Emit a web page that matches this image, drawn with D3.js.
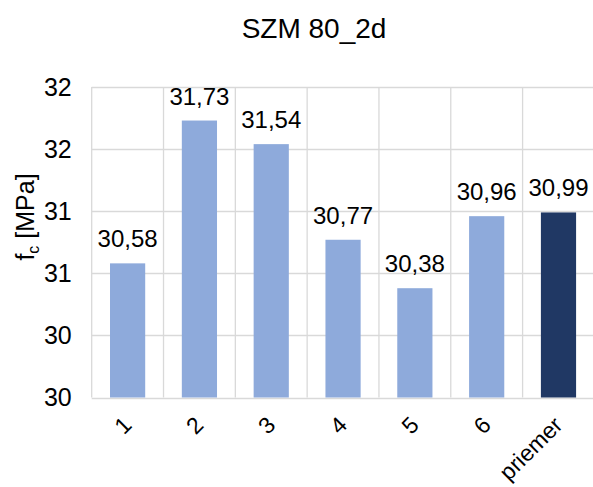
<!DOCTYPE html>
<html>
<head>
<meta charset="utf-8">
<script src="https://cdn.jsdelivr.net/npm/d3@7"></script>
<style>
  html, body { margin: 0; padding: 0; background: #fff; }
  svg { display: block; font-family: "Liberation Sans", Arial, sans-serif; }
</style>
</head>
<body>
<svg id="chart" width="593" height="487"></svg>
<script>
// Compressive strength of specimens, SZM 80 after 2 days
const categories = ["1", "2", "3", "4", "5", "6", "priemer"];
const values = [30.58, 31.73, 31.54, 30.77, 30.38, 30.96, 30.99];
const valueLabels = ["30,58", "31,73", "31,54", "30,77", "30,38", "30,96", "30,99"];
const tickValues = [29.5, 30, 30.5, 31, 31.5, 32];
const tickLabels = ["30", "30", "31", "31", "32", "32"];
const titleText = "SZM 80_2d";

const svg = d3.select("#chart");
const W = 593, H = 487;
const margin = { top: 87, right: 0, bottom: 89.5, left: 91.7 };
const x0 = margin.left, x1 = W + 1.4;
const y0 = H - margin.bottom, y1 = margin.top;

const x = d3.scaleBand().domain(categories).range([x0, x1]).paddingInner(0).paddingOuter(0);
const y = d3.scaleLinear().domain([29.5, 32]).range([y0, y1]);
const barW = x.bandwidth() * 0.49;

svg.append("rect").attr("width", W).attr("height", H).attr("fill", "#fff");

const grid = "#d9d9d9";
// horizontal gridlines
svg.append("g").selectAll("line").data(tickValues).join("line")
  .attr("x1", x0).attr("x2", x1)
  .attr("y1", d => Math.round(y(d)) + 0.5).attr("y2", d => Math.round(y(d)) + 0.5)
  .attr("stroke", grid).attr("stroke-width", 1.3);
// vertical gridlines at category boundaries
const bounds = categories.map(c => x(c)).concat([x1]);
svg.append("g").selectAll("line").data(bounds).join("line")
  .attr("x1", d => d).attr("x2", d => d)
  .attr("y1", y1).attr("y2", y0)
  .attr("stroke", grid).attr("stroke-width", 1.3);

// bars
svg.append("g").selectAll("rect").data(values).join("rect")
  .attr("x", (d, i) => x(categories[i]) + (x.bandwidth() - barW) / 2)
  .attr("width", barW)
  .attr("y", d => y(d))
  .attr("height", d => y0 - y(d))
  .attr("fill", (d, i) => categories[i] === "priemer" ? "#203864" : "#8eaadb");

// value labels
svg.append("g").selectAll("text").data(values).join("text")
  .attr("x", (d, i) => x(categories[i]) + x.bandwidth() / 2)
  .attr("y", d => y(d) - 16)
  .attr("text-anchor", "middle")
  .attr("font-size", 24)
  .attr("fill", "#000")
  .text((d, i) => valueLabels[i]);

// y axis tick labels
const yAxis = d3.axisLeft(y).tickValues(tickValues)
  .tickFormat((d, i) => tickLabels[i]).tickSize(0).tickPadding(0);
const gy = svg.append("g").attr("transform", `translate(${x0 - 20},0)`).call(yAxis);
gy.select(".domain").remove();
gy.selectAll("text").attr("font-size", 25).attr("fill", "#000")
  .attr("font-family", "Liberation Sans, Arial, sans-serif");

// x axis labels (rotated)
const xAxis = d3.axisBottom(x).tickSize(0).tickPadding(0);
const gx = svg.append("g").attr("transform", `translate(0,${y0})`).call(xAxis);
gx.select(".domain").remove();
gx.selectAll("text")
  .attr("font-size", 23).attr("fill", "#000")
  .attr("font-family", "Liberation Sans, Arial, sans-serif")
  .attr("text-anchor", "end")
  .attr("dy", 0).attr("y", 0)
  .attr("transform", "translate(5.5,29) rotate(-45)");

// y axis title
const yt = svg.append("text")
  .attr("transform", "translate(34,217) rotate(-90)")
  .attr("text-anchor", "middle")
  .attr("font-size", 25).attr("fill", "#000");
yt.append("tspan").text("f");
yt.append("tspan").attr("font-size", 16).attr("dy", 5).text("c");
yt.append("tspan").attr("dy", -5).text(" [MPa]");

// chart title
svg.append("text")
  .attr("x", 314).attr("y", 38)
  .attr("text-anchor", "middle")
  .attr("font-size", 28).attr("fill", "#000")
  .text(titleText);
</script>
</body>
</html>
